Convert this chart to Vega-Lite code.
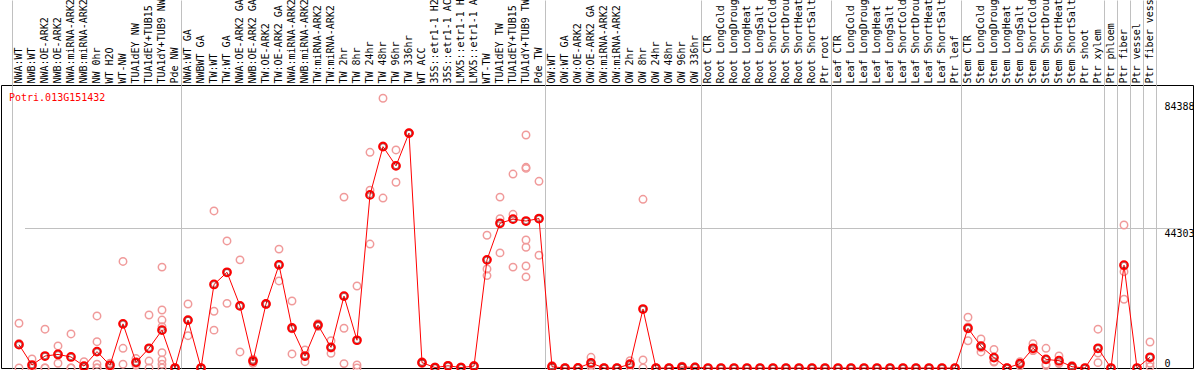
{
  "$schema": "https://vega.github.io/schema/vega-lite/v6.json",
  "autosize": {"type": "none"},
  "width": 1192,
  "height": 283,
  "padding": {"left": 1, "top": 85, "right": 1, "bottom": 2},
  "background": "white",
  "config": {"view": {"stroke": "black", "strokeWidth": 1}, "font": "DejaVu Sans Mono"},
  "title": {"text": "Potri.013G151432", "orient": "top", "anchor": "start", "frame": "group", "color": "#ff0000", "font": "DejaVu Sans Mono", "fontSize": 10, "fontWeight": "normal", "offset": 0, "dx": 8, "dy": 122},
  "datasets": {
    "means": [
      {"cat": "NWA:WT", "value": 7400}, {"cat": "NWB:WT", "value": 950}, {"cat": "NWA:OE-ARK2", "value": 3800}, {"cat": "NWB:OE-ARK2", "value": 4300},
      {"cat": "NWA:miRNA-ARK2", "value": 3500}, {"cat": "NWB:miRNA-ARK2", "value": 600}, {"cat": "NW 0hr", "value": 5200}, {"cat": "WT H2O", "value": 850},
      {"cat": "WT-NW", "value": 14000}, {"cat": "TUA1dEY NW", "value": 1800}, {"cat": "TUA1dEY+TUB15 NW", "value": 6250}, {"cat": "TUA1dY+TUB9 NW", "value": 12000},
      {"cat": "Pde NW", "value": 0}, {"cat": "NWA:WT GA", "value": 15200}, {"cat": "NWBWT GA", "value": 0}, {"cat": "TW:WT", "value": 26500},
      {"cat": "TW:WT GA", "value": 30350}, {"cat": "NWA:OE-ARK2 GA", "value": 19700}, {"cat": "NWB:OE-ARK2 GA", "value": 2200}, {"cat": "TW:OE-ARK2", "value": 20300},
      {"cat": "TW:OE-ARK2 GA", "value": 32700}, {"cat": "NWA:miRNA-ARK2 GA", "value": 12700}, {"cat": "NWB:miRNA-ARK2 GA", "value": 3800}, {"cat": "TW:miRNA-ARK2", "value": 13600},
      {"cat": "TW:miRNA-ARK2 GA", "value": 6550}, {"cat": "TW 2hr", "value": 22800}, {"cat": "TW 8hr", "value": 8800}, {"cat": "TW 24hr", "value": 54900},
      {"cat": "TW 48hr", "value": 70200}, {"cat": "TW 96hr", "value": 64100}, {"cat": "TW 336hr", "value": 74500}, {"cat": "WT ACC", "value": 1700},
      {"cat": "35S::etr1-1 H2O", "value": 150}, {"cat": "35S::etr1-1 ACC", "value": 700}, {"cat": "LMX5::etr1-1 H2O", "value": 150}, {"cat": "LMX5::etr1-1 ACC", "value": 600},
      {"cat": "WT-TW", "value": 34300}, {"cat": "TUA1dEY TW", "value": 45900}, {"cat": "TUA1dEY+TUB15 TW", "value": 47200}, {"cat": "TUA1dY+TUB9 TW", "value": 46600},
      {"cat": "Pde TW", "value": 47400}, {"cat": "OW:WT", "value": 400}, {"cat": "OW:WT GA", "value": 0}, {"cat": "OW:OE-ARK2", "value": 50},
      {"cat": "OW:OE-ARK2 GA", "value": 1600}, {"cat": "OW:miRNA-ARK2", "value": 0}, {"cat": "OW:miRNA-ARK2 GA", "value": 0}, {"cat": "OW 2hr", "value": 1200},
      {"cat": "OW 8hr", "value": 18700}, {"cat": "OW 24hr", "value": 0}, {"cat": "OW 48hr", "value": 0}, {"cat": "OW 96hr", "value": 300},
      {"cat": "OW 336hr", "value": 200}, {"cat": "Root CTR", "value": 0}, {"cat": "Root LongCold", "value": 0}, {"cat": "Root LongDrought", "value": 0},
      {"cat": "Root LongHeat", "value": 0}, {"cat": "Root LongSalt", "value": 0}, {"cat": "Root ShortCold", "value": 0}, {"cat": "Root ShortDrought", "value": 0},
      {"cat": "Root ShortHeat", "value": 0}, {"cat": "Root ShortSalt", "value": 0}, {"cat": "Ptr root", "value": 0}, {"cat": "Leaf CTR", "value": 0},
      {"cat": "Leaf LongCold", "value": 0}, {"cat": "Leaf LongDrought", "value": 0}, {"cat": "Leaf LongHeat", "value": 0}, {"cat": "Leaf LongSalt", "value": 0},
      {"cat": "Leaf ShortCold", "value": 0}, {"cat": "Leaf ShortDrought", "value": 0}, {"cat": "Leaf ShortHeat", "value": 0}, {"cat": "Leaf ShortSalt", "value": 0},
      {"cat": "Ptr leaf", "value": 0}, {"cat": "Stem CTR", "value": 12600}, {"cat": "Stem LongCold", "value": 6900}, {"cat": "Stem LongDrought", "value": 3300},
      {"cat": "Stem LongHeat", "value": 0}, {"cat": "Stem LongSalt", "value": 1400}, {"cat": "Stem ShortCold", "value": 6250}, {"cat": "Stem ShortDrought", "value": 2750},
      {"cat": "Stem ShortHeat", "value": 2300}, {"cat": "Stem ShortSalt", "value": 400}, {"cat": "Ptr shoot", "value": 0}, {"cat": "Ptr xylem", "value": 6250},
      {"cat": "Ptr phloem", "value": 0}, {"cat": "Ptr fiber", "value": 32600}, {"cat": "Ptr vessel", "value": 0}, {"cat": "Ptr fiber vessel", "value": 3400}
    ],
    "reps": [
      {"cat": "NWA:WT", "value": 14200}, {"cat": "NWA:WT", "value": 7800}, {"cat": "NWA:WT", "value": 0},
      {"cat": "NWB:WT", "value": 2850}, {"cat": "NWB:WT", "value": 0}, {"cat": "NWB:WT", "value": 0},
      {"cat": "NWA:OE-ARK2", "value": 12300}, {"cat": "NWA:OE-ARK2", "value": 0}, {"cat": "NWA:OE-ARK2", "value": 0},
      {"cat": "NWB:OE-ARK2", "value": 7000}, {"cat": "NWB:OE-ARK2", "value": 1500}, {"cat": "NWB:OE-ARK2", "value": 4500},
      {"cat": "NWA:miRNA-ARK2", "value": 10800}, {"cat": "NWA:miRNA-ARK2", "value": 0}, {"cat": "NWA:miRNA-ARK2", "value": 0},
      {"cat": "NWB:miRNA-ARK2", "value": 2000}, {"cat": "NWB:miRNA-ARK2", "value": 0}, {"cat": "NWB:miRNA-ARK2", "value": 0},
      {"cat": "NW 0hr", "value": 16500}, {"cat": "NW 0hr", "value": 8350}, {"cat": "NW 0hr", "value": 1200}, {"cat": "NW 0hr", "value": 0}, {"cat": "NW 0hr", "value": 0},
      {"cat": "WT H2O", "value": 1500}, {"cat": "WT H2O", "value": 1000}, {"cat": "WT H2O", "value": 0},
      {"cat": "WT-NW", "value": 33800}, {"cat": "WT-NW", "value": 6250}, {"cat": "WT-NW", "value": 1200},
      {"cat": "TUA1dEY NW", "value": 3000}, {"cat": "TUA1dEY NW", "value": 1500}, {"cat": "TUA1dEY NW", "value": 900},
      {"cat": "TUA1dEY+TUB15 NW", "value": 16800}, {"cat": "TUA1dEY+TUB15 NW", "value": 2200}, {"cat": "TUA1dEY+TUB15 NW", "value": 0},
      {"cat": "TUA1dY+TUB9 NW", "value": 32000}, {"cat": "TUA1dY+TUB9 NW", "value": 18400}, {"cat": "TUA1dY+TUB9 NW", "value": 15200}, {"cat": "TUA1dY+TUB9 NW", "value": 13100},
      {"cat": "TUA1dY+TUB9 NW", "value": 4850}, {"cat": "TUA1dY+TUB9 NW", "value": 2550}, {"cat": "TUA1dY+TUB9 NW", "value": 1200}, {"cat": "TUA1dY+TUB9 NW", "value": 0},
      {"cat": "Pde NW", "value": 0}, {"cat": "Pde NW", "value": 0}, {"cat": "Pde NW", "value": 0},
      {"cat": "NWA:WT GA", "value": 20300}, {"cat": "NWA:WT GA", "value": 10250}, {"cat": "NWA:WT GA", "value": 15100},
      {"cat": "NWBWT GA", "value": 0}, {"cat": "NWBWT GA", "value": 0}, {"cat": "NWBWT GA", "value": 0},
      {"cat": "TW:WT", "value": 49800}, {"cat": "TW:WT", "value": 18000}, {"cat": "TW:WT", "value": 12000},
      {"cat": "TW:WT GA", "value": 40300}, {"cat": "TW:WT GA", "value": 20500}, {"cat": "TW:WT GA", "value": 30300},
      {"cat": "NWA:OE-ARK2 GA", "value": 34300}, {"cat": "NWA:OE-ARK2 GA", "value": 5100}, {"cat": "NWA:OE-ARK2 GA", "value": 19700},
      {"cat": "NWB:OE-ARK2 GA", "value": 1500}, {"cat": "NWB:OE-ARK2 GA", "value": 2800}, {"cat": "NWB:OE-ARK2 GA", "value": 2300},
      {"cat": "TW:OE-ARK2", "value": 20300}, {"cat": "TW:OE-ARK2", "value": 20300}, {"cat": "TW:OE-ARK2", "value": 20300},
      {"cat": "TW:OE-ARK2 GA", "value": 37700}, {"cat": "TW:OE-ARK2 GA", "value": 27600}, {"cat": "TW:OE-ARK2 GA", "value": 32800},
      {"cat": "NWA:miRNA-ARK2 GA", "value": 21250}, {"cat": "NWA:miRNA-ARK2 GA", "value": 4450}, {"cat": "NWA:miRNA-ARK2 GA", "value": 12400},
      {"cat": "NWB:miRNA-ARK2 GA", "value": 5700}, {"cat": "NWB:miRNA-ARK2 GA", "value": 2000}, {"cat": "NWB:miRNA-ARK2 GA", "value": 3700},
      {"cat": "TW:miRNA-ARK2", "value": 14050}, {"cat": "TW:miRNA-ARK2", "value": 13600}, {"cat": "TW:miRNA-ARK2", "value": 13150},
      {"cat": "TW:miRNA-ARK2 GA", "value": 8650}, {"cat": "TW:miRNA-ARK2 GA", "value": 4650}, {"cat": "TW:miRNA-ARK2 GA", "value": 6350},
      {"cat": "TW 2hr", "value": 54200}, {"cat": "TW 2hr", "value": 12600}, {"cat": "TW 2hr", "value": 1400},
      {"cat": "TW 8hr", "value": 26000}, {"cat": "TW 8hr", "value": 950}, {"cat": "TW 8hr", "value": 0},
      {"cat": "TW 24hr", "value": 68400}, {"cat": "TW 24hr", "value": 56400}, {"cat": "TW 24hr", "value": 39300},
      {"cat": "TW 48hr", "value": 85550}, {"cat": "TW 48hr", "value": 70400}, {"cat": "TW 48hr", "value": 53900},
      {"cat": "TW 96hr", "value": 69150}, {"cat": "TW 96hr", "value": 58900}, {"cat": "TW 96hr", "value": 64250},
      {"cat": "TW 336hr", "value": 74500}, {"cat": "TW 336hr", "value": 74500}, {"cat": "TW 336hr", "value": 74500},
      {"cat": "WT ACC", "value": 2000}, {"cat": "WT ACC", "value": 1700}, {"cat": "WT ACC", "value": 1400},
      {"cat": "35S::etr1-1 H2O", "value": 150}, {"cat": "35S::etr1-1 H2O", "value": 0}, {"cat": "35S::etr1-1 H2O", "value": 300},
      {"cat": "35S::etr1-1 ACC", "value": 700}, {"cat": "35S::etr1-1 ACC", "value": 600}, {"cat": "35S::etr1-1 ACC", "value": 800},
      {"cat": "LMX5::etr1-1 H2O", "value": 150}, {"cat": "LMX5::etr1-1 H2O", "value": 0}, {"cat": "LMX5::etr1-1 H2O", "value": 300},
      {"cat": "LMX5::etr1-1 ACC", "value": 600}, {"cat": "LMX5::etr1-1 ACC", "value": 400}, {"cat": "LMX5::etr1-1 ACC", "value": 800},
      {"cat": "WT-TW", "value": 42100}, {"cat": "WT-TW", "value": 31400}, {"cat": "WT-TW", "value": 29300},
      {"cat": "TUA1dEY TW", "value": 54200}, {"cat": "TUA1dEY TW", "value": 47350}, {"cat": "TUA1dEY TW", "value": 36500},
      {"cat": "TUA1dEY+TUB15 TW", "value": 61500}, {"cat": "TUA1dEY+TUB15 TW", "value": 48750}, {"cat": "TUA1dEY+TUB15 TW", "value": 32000},
      {"cat": "TUA1dY+TUB9 TW", "value": 73900}, {"cat": "TUA1dY+TUB9 TW", "value": 63650}, {"cat": "TUA1dY+TUB9 TW", "value": 63300}, {"cat": "TUA1dY+TUB9 TW", "value": 40600},
      {"cat": "TUA1dY+TUB9 TW", "value": 38300}, {"cat": "TUA1dY+TUB9 TW", "value": 32350}, {"cat": "TUA1dY+TUB9 TW", "value": 28900},
      {"cat": "Pde TW", "value": 59200}, {"cat": "Pde TW", "value": 35750}, {"cat": "Pde TW", "value": 47300},
      {"cat": "OW:WT", "value": 400}, {"cat": "OW:WT", "value": 0}, {"cat": "OW:WT", "value": 800},
      {"cat": "OW:WT GA", "value": 0}, {"cat": "OW:WT GA", "value": 0}, {"cat": "OW:WT GA", "value": 0},
      {"cat": "OW:OE-ARK2", "value": 0}, {"cat": "OW:OE-ARK2", "value": 100}, {"cat": "OW:OE-ARK2", "value": 0},
      {"cat": "OW:OE-ARK2 GA", "value": 3400}, {"cat": "OW:OE-ARK2 GA", "value": 1000}, {"cat": "OW:OE-ARK2 GA", "value": 400},
      {"cat": "OW:miRNA-ARK2", "value": 0}, {"cat": "OW:miRNA-ARK2", "value": 0}, {"cat": "OW:miRNA-ARK2", "value": 0},
      {"cat": "OW:miRNA-ARK2 GA", "value": 0}, {"cat": "OW:miRNA-ARK2 GA", "value": 0}, {"cat": "OW:miRNA-ARK2 GA", "value": 0},
      {"cat": "OW 2hr", "value": 2300}, {"cat": "OW 2hr", "value": 1000}, {"cat": "OW 2hr", "value": 300},
      {"cat": "OW 8hr", "value": 53500}, {"cat": "OW 8hr", "value": 2550}, {"cat": "OW 8hr", "value": 0},
      {"cat": "OW 24hr", "value": 0}, {"cat": "OW 24hr", "value": 0}, {"cat": "OW 24hr", "value": 0},
      {"cat": "OW 48hr", "value": 0}, {"cat": "OW 48hr", "value": 0}, {"cat": "OW 48hr", "value": 0},
      {"cat": "OW 96hr", "value": 600}, {"cat": "OW 96hr", "value": 300}, {"cat": "OW 96hr", "value": 0},
      {"cat": "OW 336hr", "value": 300}, {"cat": "OW 336hr", "value": 200}, {"cat": "OW 336hr", "value": 100},
      {"cat": "Root CTR", "value": 0}, {"cat": "Root LongCold", "value": 0}, {"cat": "Root LongDrought", "value": 0}, {"cat": "Root LongHeat", "value": 0},
      {"cat": "Root LongSalt", "value": 0}, {"cat": "Root ShortCold", "value": 0}, {"cat": "Root ShortDrought", "value": 0}, {"cat": "Root ShortHeat", "value": 0},
      {"cat": "Root ShortSalt", "value": 0}, {"cat": "Ptr root", "value": 0}, {"cat": "Leaf CTR", "value": 0}, {"cat": "Leaf LongCold", "value": 0},
      {"cat": "Leaf LongDrought", "value": 0}, {"cat": "Leaf LongHeat", "value": 0}, {"cat": "Leaf LongSalt", "value": 0}, {"cat": "Leaf ShortCold", "value": 0},
      {"cat": "Leaf ShortDrought", "value": 0}, {"cat": "Leaf ShortHeat", "value": 0}, {"cat": "Leaf ShortSalt", "value": 0}, {"cat": "Ptr leaf", "value": 0},
      {"cat": "Stem CTR", "value": 16100}, {"cat": "Stem CTR", "value": 8650}, {"cat": "Stem CTR", "value": 13050},
      {"cat": "Stem LongCold", "value": 9200}, {"cat": "Stem LongCold", "value": 5100}, {"cat": "Stem LongCold", "value": 6400},
      {"cat": "Stem LongDrought", "value": 5900}, {"cat": "Stem LongDrought", "value": 1900}, {"cat": "Stem LongDrought", "value": 2100},
      {"cat": "Stem LongHeat", "value": 0}, {"cat": "Stem LongHeat", "value": 0}, {"cat": "Stem LongHeat", "value": 0},
      {"cat": "Stem LongSalt", "value": 2000}, {"cat": "Stem LongSalt", "value": 1500}, {"cat": "Stem LongSalt", "value": 700},
      {"cat": "Stem ShortCold", "value": 7700}, {"cat": "Stem ShortCold", "value": 5500}, {"cat": "Stem ShortCold", "value": 5550},
      {"cat": "Stem ShortDrought", "value": 6250}, {"cat": "Stem ShortDrought", "value": 1200}, {"cat": "Stem ShortDrought", "value": 800},
      {"cat": "Stem ShortHeat", "value": 3800}, {"cat": "Stem ShortHeat", "value": 1700}, {"cat": "Stem ShortHeat", "value": 1400},
      {"cat": "Stem ShortSalt", "value": 800}, {"cat": "Stem ShortSalt", "value": 400}, {"cat": "Stem ShortSalt", "value": 0},
      {"cat": "Ptr shoot", "value": 0},
      {"cat": "Ptr xylem", "value": 12300}, {"cat": "Ptr xylem", "value": 1700}, {"cat": "Ptr xylem", "value": 4750},
      {"cat": "Ptr phloem", "value": 0},
      {"cat": "Ptr fiber", "value": 45350}, {"cat": "Ptr fiber", "value": 30550}, {"cat": "Ptr fiber", "value": 21800},
      {"cat": "Ptr vessel", "value": 0},
      {"cat": "Ptr fiber vessel", "value": 8250}, {"cat": "Ptr fiber vessel", "value": 1500}, {"cat": "Ptr fiber vessel", "value": 450}
    ]
  },
  "encoding": {
    "x": {
      "field": "cat", "type": "nominal", "sort": null,
      "scale": {
        "type": "band", "paddingInner": 0, "paddingOuter": 0, "range": [11.5, 1168.5],
        "domain": ["NWA:WT", "NWB:WT", "NWA:OE-ARK2", "NWB:OE-ARK2", "NWA:miRNA-ARK2", "NWB:miRNA-ARK2", "NW 0hr", "WT H2O", "WT-NW", "TUA1dEY NW", "TUA1dEY+TUB15 NW", "TUA1dY+TUB9 NW", "Pde NW",
          "NWA:WT GA", "NWBWT GA", "TW:WT", "TW:WT GA", "NWA:OE-ARK2 GA", "NWB:OE-ARK2 GA", "TW:OE-ARK2", "TW:OE-ARK2 GA", "NWA:miRNA-ARK2 GA", "NWB:miRNA-ARK2 GA", "TW:miRNA-ARK2", "TW:miRNA-ARK2 GA",
          "TW 2hr", "TW 8hr", "TW 24hr", "TW 48hr", "TW 96hr", "TW 336hr", "WT ACC", "35S::etr1-1 H2O", "35S::etr1-1 ACC", "LMX5::etr1-1 H2O", "LMX5::etr1-1 ACC", "WT-TW", "TUA1dEY TW", "TUA1dEY+TUB15 TW", "TUA1dY+TUB9 TW", "Pde TW",
          "OW:WT", "OW:WT GA", "OW:OE-ARK2", "OW:OE-ARK2 GA", "OW:miRNA-ARK2", "OW:miRNA-ARK2 GA", "OW 2hr", "OW 8hr", "OW 24hr", "OW 48hr", "OW 96hr", "OW 336hr",
          "Root CTR", "Root LongCold", "Root LongDrought", "Root LongHeat", "Root LongSalt", "Root ShortCold", "Root ShortDrought", "Root ShortHeat", "Root ShortSalt", "Ptr root",
          "Leaf CTR", "Leaf LongCold", "Leaf LongDrought", "Leaf LongHeat", "Leaf LongSalt", "Leaf ShortCold", "Leaf ShortDrought", "Leaf ShortHeat", "Leaf ShortSalt", "Ptr leaf",
          "Stem CTR", "Stem LongCold", "Stem LongDrought", "Stem LongHeat", "Stem LongSalt", "Stem ShortCold", "Stem ShortDrought", "Stem ShortHeat", "Stem ShortSalt", "Ptr shoot", "Ptr xylem",
          "Ptr phloem", "Ptr fiber", "Ptr vessel", "Ptr fiber vessel", " "]
      },
      "axis": {
        "orient": "top", "title": null, "labelAngle": 270, "labelFont": "DejaVu Sans Mono", "labelFontSize": 10, "labelColor": "black",
        "labelOverlap": false, "labelFlush": false, "labelBound": false, "labelLimit": 0, "labelPadding": -83,
        "bandPosition": 0, "domain": false,
        "ticks": true, "tickSize": 85, "tickColor": "#c0c0c0", "tickWidth": 1,
        "tickOpacity": {"condition": {"test": "indexof(['NWA:WT','NWA:WT GA','OW:WT','Root CTR','Leaf CTR','Stem CTR','Ptr phloem','Ptr fiber','Ptr vessel','Ptr fiber vessel',' '], datum.value) >= 0", "value": 1}, "value": 0},
        "grid": true, "gridColor": "#c0c0c0", "gridWidth": 1,
        "gridOpacity": {"condition": {"test": "indexof(['NWA:WT','NWA:WT GA','OW:WT','Root CTR','Leaf CTR','Stem CTR','Ptr phloem','Ptr fiber','Ptr vessel','Ptr fiber vessel',' '], datum.value) >= 0", "value": 1}, "value": 0}
      }
    },
    "y": {
      "field": "value", "type": "quantitative",
      "scale": {"domain": [0, 89750], "nice": false, "zero": true},
      "axis": {
        "orient": "right", "title": null, "values": [0, 44303, 84388], "format": "d",
        "ticks": false, "domain": false, "labelPadding": -29, "labelAlign": "left",
        "labelBaseline": {"condition": {"test": "datum.value == 0", "value": "bottom"}, "value": "top"},
        "labelFont": "DejaVu Sans Mono", "labelFontSize": 10, "labelColor": "black",
        "labelFlush": false, "labelOverlap": false, "labelBound": false,
        "grid": true, "gridColor": "#c0c0c0", "gridWidth": 1,
        "gridOpacity": {"condition": {"test": "datum.value == 44303", "value": 1}, "value": 0}
      }
    }
  },
  "layer": [
    {
      "data": {"name": "reps"},
      "mark": {"type": "point", "shape": "circle", "filled": false, "size": 55, "strokeWidth": 1.5, "color": "#f09a9a", "opacity": 1, "clip": false}
    },
    {
      "data": {"name": "means"},
      "mark": {"type": "line", "color": "#ff0000", "strokeWidth": 1},
      "encoding": {"order": {"value": null}}
    },
    {
      "data": {"name": "means"},
      "mark": {"type": "point", "shape": "circle", "filled": false, "size": 60, "strokeWidth": 2, "color": "#ff0000", "opacity": 1}
    },
    {
      "data": {"name": "means"},
      "mark": {"type": "point", "shape": "circle", "filled": false, "size": 30, "strokeWidth": 0.8, "color": "#500000", "opacity": 0.6}
    }
  ]
}
